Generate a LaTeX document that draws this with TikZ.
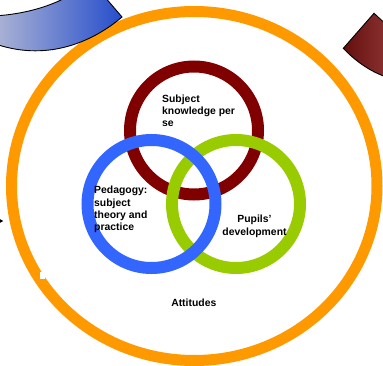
\documentclass[tikz,border=0pt]{standalone}
\usepackage{fontspec}
\setmainfont{Liberation Sans}
\usetikzlibrary{shapes.geometric}
\definecolor{ringorange}{HTML}{FF9900}
\definecolor{ringred}{HTML}{800000}
\definecolor{ringblue}{HTML}{3366FF}
\definecolor{ringgreen}{HTML}{99CC00}
\definecolor{arrowblueA}{RGB}{170,178,212}
\definecolor{arrowblueB}{RGB}{38,78,204}
\definecolor{arrowredA}{RGB}{100,14,14}
\definecolor{arrowredB}{RGB}{140,52,52}
\tikzset{
  ring/.style={circle, draw=#1, line width=12pt, minimum size=128pt, inner sep=0pt},
  lbl/.style={font=\bfseries\fontsize{10.4}{12.4}\selectfont, inner sep=0pt, text=black},
}
\begin{document}
\begin{tikzpicture}[x=1pt,y=-1pt]
\useasboundingbox (0,0) rectangle (383,366);
\begin{scope}
\clip (0,0) rectangle (383,366);
% outer attitudes ring
\node[ellipse, draw=ringorange, line width=11pt, minimum width=365.5pt, minimum height=349pt, inner sep=0pt] (att) at (194.25,186) {};
\fill[white] (40,272) rectangle (44.5,279.5);
% partial arrows at the edges
\shade[left color=arrowblueA, right color=arrowblueB, draw=black, line width=0.9pt]
  (-3,15.8) .. controls (22,14) and (45,8) .. (63,-1) -- (66,-4) -- (104,-4)
  -- (122,17) .. controls (95,40) and (50,62) .. (-3,44.5) -- cycle;
\shade[shading angle=135, left color=arrowredA, right color=arrowredB, draw=black, line width=0.9pt]
  (343.3,48.3) -- (374,13.3) -- (390,28) -- (390,78)
  .. controls (378,75) and (360,66) .. (343.3,48.3) -- cycle;
\fill[black] (-1,218.6) -- (3.2,221) -- (-1,223.4) -- cycle;
\end{scope}
% three overlapping rings
\node[ring=ringred]   (know) at (194,130.5) {};
\node[ring=ringgreen] (pup)  at (236,204) {};
\node[ring=ringblue]  (ped)  at (151.5,204) {};
% labels
\node[lbl, anchor=north west, align=left] (tknow) at (162,94.4) {Subject\\knowledge per\\se};
\node[lbl, anchor=north west, align=left] (tped) at (94,185.9) {Pedagogy:\\subject\\theory and\\practice};
\node[lbl, anchor=north, align=center] (tpup) at (254.5,215.2) {Pupils'\\development};
\node[lbl, anchor=base] (tatt) at (193.8,306.7) {Attitudes};
\end{tikzpicture}
\end{document}
